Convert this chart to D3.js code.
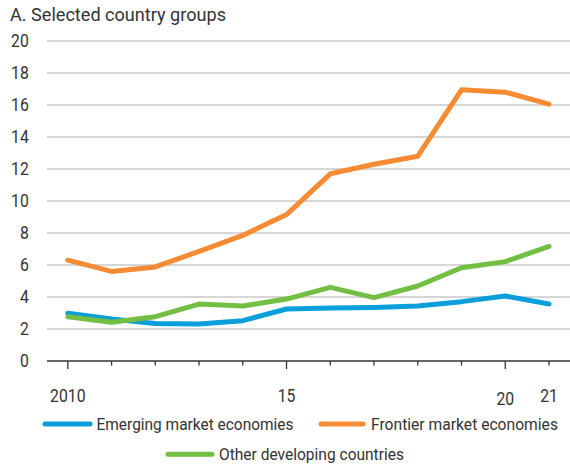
<!DOCTYPE html>
<html>
<head>
<meta charset="utf-8">
<script src="https://cdn.jsdelivr.net/npm/d3@7"></script>
<style>
  html, body { margin: 0; padding: 0; background: #fff; }
  svg { display: block; font-family: Roboto, "Noto Sans", sans-serif; }
</style>
</head>
<body>
<svg id="chart" width="570" height="466"></svg>
<script>
const years = [2010, 2011, 2012, 2013, 2014, 2015, 2016, 2017, 2018, 2019, 2020, 2021];
const emerging = [2.98, 2.62, 2.35, 2.31, 2.52, 3.25, 3.31, 3.35, 3.44, 3.71, 4.06, 3.56];
const frontier = [6.3, 5.6, 5.88, 6.85, 7.85, 9.15, 11.7, 12.3, 12.8, 16.95, 16.8, 16.05];
const otherDev = [2.77, 2.42, 2.77, 3.56, 3.44, 3.87, 4.6, 3.96, 4.69, 5.83, 6.21, 7.16];
const yTicks = [0, 2, 4, 6, 8, 10, 12, 14, 16, 18, 20];
const xTickLabels = { 2010: "2010", 2015: "15", 2020: "20", 2021: "21" };
const seriesNames = ["Emerging market economies", "Frontier market economies", "Other developing countries"];
const colors = ["#0a9edb", "#f68b33", "#72bf44"];

const svg = d3.select("#chart");
const textColor = "#333";

const x = d3.scaleLinear().domain([2010, 2021]).range([67.8, 549]);
const y = d3.scaleLinear().domain([0, 20]).range([361, 41]);

// Title
svg.append("text").attr("x", 10).attr("y", 21)
  .attr("font-size", 18).attr("fill", textColor)
  .attr("textLength", 216).attr("lengthAdjust", "spacingAndGlyphs")
  .text("A. Selected country groups");

// Gridlines
svg.append("g").selectAll("line").data(yTicks.filter(d => d > 0)).join("line")
  .attr("x1", 47).attr("x2", 570)
  .attr("y1", d => y(d)).attr("y2", d => y(d))
  .attr("stroke", "#c8c8c8").attr("stroke-width", 1.3);

// Y labels
svg.append("g").selectAll("text").data(yTicks).join("text")
  .attr("x", 28.8).attr("y", d => y(d)).attr("dy", "0.36em")
  .attr("text-anchor", "end").attr("font-size", 17.5).attr("fill", textColor)
  .attr("transform", d => `translate(${28.8 * 0.1},0) scale(0.9,1)`)
  .attr("x", 28.8 / 0.9 - 28.8 * 0.1 / 0.9)
  .text(d => d);

// X axis line
svg.append("line").attr("x1", 47).attr("x2", 570).attr("y1", y(0)).attr("y2", y(0))
  .attr("stroke", "#333").attr("stroke-width", 1.6);

// X ticks
svg.append("g").selectAll("line").data(years).join("line")
  .attr("x1", d => x(d)).attr("x2", d => x(d))
  .attr("y1", y(0)).attr("y2", d => (d % 5 === 0) ? y(0) + 8 : y(0) + 4.5)
  .attr("stroke", "#333").attr("stroke-width", 1.3);

// X labels
svg.append("g").selectAll("text").data(Object.keys(xTickLabels).map(Number)).join("text")
  .attr("transform", d => `translate(${x(d)},${d === 2020 ? 404.5 : 402}) scale(0.9,1)`)
  .attr("text-anchor", "middle").attr("font-size", 17.5).attr("fill", textColor)
  .text(d => xTickLabels[d]);

// Lines
const allSeries = [emerging, frontier, otherDev];
const line = d3.line().x((d, i) => x(years[i])).y(d => y(d));
const drawOrder = [1, 0, 2];
drawOrder.forEach(k => {
  svg.append("path").datum(allSeries[k])
    .attr("d", line).attr("fill", "none")
    .attr("stroke", colors[k]).attr("stroke-width", 5)
    .attr("stroke-linejoin", "round").attr("stroke-linecap", "round");
});

// Legend
const legend = [
  { name: seriesNames[0], color: colors[0], x1: 45, x2: 90, tx: 96.5, tw: 197, y: 424 },
  { name: seriesNames[1], color: colors[1], x1: 321, x2: 363, tx: 371, tw: 187, y: 424 },
  { name: seriesNames[2], color: colors[2], x1: 168, x2: 212, tx: 219, tw: 185, y: 454.3 }
];
const lg = svg.append("g");
legend.forEach(l => {
  lg.append("line").attr("x1", l.x1).attr("x2", l.x2).attr("y1", l.y).attr("y2", l.y)
    .attr("stroke", l.color).attr("stroke-width", 5).attr("stroke-linecap", "round");
  lg.append("text").attr("x", l.tx).attr("y", l.y + 5.5)
    .attr("font-size", 16.5).attr("fill", textColor)
    .attr("textLength", l.tw).attr("lengthAdjust", "spacingAndGlyphs")
    .text(l.name);
});
</script>
</body>
</html>
